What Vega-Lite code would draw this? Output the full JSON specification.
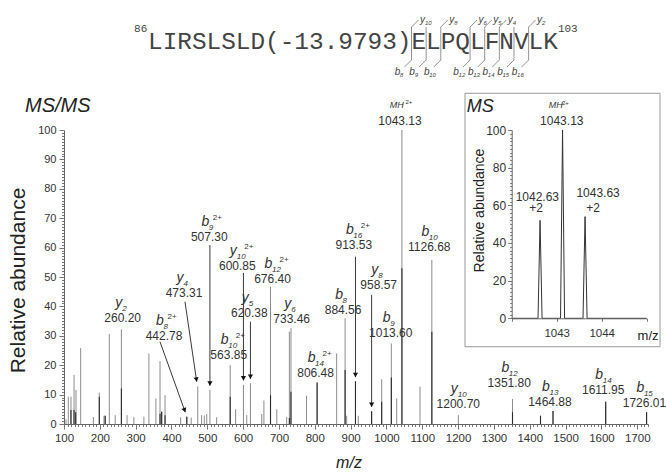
{
  "$schema": "https://vega.github.io/schema/vega-lite/v6.json",
  "autosize": {"type": "none"},
  "padding": {"left": 64, "top": 130, "right": 18, "bottom": 49},
  "width": 584,
  "height": 294,
  "background": "white",
  "config": {
    "view": {"stroke": null},
    "font": "Liberation Sans",
    "text": {"font": "Liberation Sans"},
    "axis": {"grid": false, "labelFont": "Liberation Sans", "titleFont": "Liberation Sans"}
  },
  "layer": [
    {
      "encoding": {
        "x": {"field": "x", "type": "quantitative",
          "scale": {"domain": [100, 1730], "nice": false, "zero": false},
          "axis": {"tickCount": 163, "format": "d", "labelExpr": "datum.value % 100 === 0 ? datum.label : ''",
            "tickSize": {"condition": {"test": "datum.value % 100 === 0", "value": 5}, "value": 2.5},
            "labelFontSize": 11.5, "labelColor": "#333", "labelPadding": 3, "domainColor": "#666", "tickColor": "#777",
            "labelOverlap": false, "labelFlush": false, "labelBound": false,
            "title": "m/z", "titleFontStyle": "italic", "titleFontSize": 16, "titleFontWeight": "normal", "titleColor": "#222",
            "titleX": 284.5, "titleY": 43, "titleBaseline": "alphabetic", "titleAlign": "center"}},
        "y": {"field": "y", "type": "quantitative",
          "scale": {"domain": [0, 100], "nice": false, "zero": false},
          "axis": {"tickCount": 100, "labelExpr": "datum.value % 10 === 0 ? datum.label : ''",
            "tickSize": {"condition": {"test": "datum.value % 10 === 0", "value": 5}, "value": 2.5},
            "labelFontSize": 11, "labelColor": "#333", "labelPadding": 3, "domainColor": "#666", "tickColor": "#777",
            "labelOverlap": false, "labelFlush": false, "labelBound": false,
            "title": "Relative abundance", "titleFontSize": 21, "titleFontWeight": "normal", "titleColor": "#222",
            "titleX": -46, "titleY": 150, "titleAngle": -90, "titleAlign": "center", "titleBaseline": "middle"}}
      },
      "layer": [
        {
          "data": {"values": [
            {"x":105.6,"y":1.6},{"x":112,"y":9.3},{"x":119.5,"y":9.3},{"x":128,"y":16.7},{"x":133.5,"y":11.6},{"x":146.5,"y":25.8},
            {"x":182,"y":2.4},{"x":198.5,"y":10.7},{"x":211.6,"y":2.8},{"x":215,"y":2.8},{"x":226.5,"y":30.6},{"x":243,"y":3},
            {"x":260.2,"y":32.2},{"x":276,"y":3},{"x":295,"y":2.3},{"x":323,"y":2.5},{"x":337,"y":24},{"x":356.5,"y":8.7},
            {"x":368,"y":21.4},{"x":372.6,"y":4.2},{"x":382,"y":9.8},{"x":425.6,"y":2.3},{"x":442.78,"y":2.5},{"x":455,"y":2.2},
            {"x":473.31,"y":12.8},{"x":484,"y":3},{"x":491.6,"y":2.9},{"x":498.3,"y":3.4},{"x":507.3,"y":11.6},{"x":526,"y":2.3},
            {"x":563.85,"y":20},{"x":579,"y":5},{"x":600.85,"y":13.3},{"x":610,"y":3},{"x":620.38,"y":13.9},{"x":652,"y":3.4},
            {"x":658,"y":8},{"x":676.4,"y":46.7},{"x":694,"y":5},{"x":721.5,"y":2.4},{"x":729,"y":31.4},{"x":733.46,"y":32.6},
            {"x":777,"y":9.6},{"x":806.48,"y":14.1},{"x":861,"y":24},{"x":884.56,"y":36},{"x":889,"y":2.8},{"x":913.53,"y":14.5},
            {"x":921.4,"y":2.8},{"x":958.57,"y":4.3},{"x":986.7,"y":15.2},{"x":1013.6,"y":27.4},{"x":1028.6,"y":8.7},{"x":1043.13,"y":100},
            {"x":1093.6,"y":12.7},{"x":1126.68,"y":55.8},{"x":1200.7,"y":3},{"x":1351.8,"y":8.5},{"x":1430,"y":2.8},{"x":1464.88,"y":4.4},
            {"x":1611.95,"y":7.6},{"x":1726.01,"y":4}
          ]},
          "mark": {"type": "rule", "color": "#8c8c8c", "strokeWidth": 1},
          "encoding": {"y2": {"datum": 0}}
        },
        {
          "data": {"values": [
            {"x":119.5,"y":4.8},{"x":128,"y":4.8},{"x":132.6,"y":4.0},{"x":198.5,"y":9.3},{"x":215,"y":2.8},{"x":260.2,"y":12.1},
            {"x":368,"y":3.5},{"x":372.6,"y":4.2},{"x":382,"y":3},{"x":442.78,"y":2.5},{"x":563.85,"y":9.3},{"x":676.4,"y":9.8},
            {"x":729,"y":2},{"x":733.46,"y":11},{"x":806.48,"y":14.1},{"x":884.56,"y":18.4},{"x":913.53,"y":14.5},{"x":958.57,"y":4.3},
            {"x":986.7,"y":7.6},{"x":1013.6,"y":15.8},{"x":1043.13,"y":53},{"x":1126.68,"y":31.4},{"x":1351.8,"y":4},{"x":1430,"y":2.8},
            {"x":1464.88,"y":4.4},{"x":1611.95,"y":7.6},{"x":1726.01,"y":4}
          ]},
          "mark": {"type": "rule", "color": "#2a2a2a", "strokeWidth": 1.1},
          "encoding": {"y2": {"datum": 0}}
        },
        {
          "data": {"values": [
            {"x":367.9,"y":28.0,"x2":438.5,"y2":4.0},
            {"x":437.7,"y":41.6,"x2":470.4,"y2":14.4},
            {"x":507.3,"y":60.9,"x2":507.3,"y2":13.0},
            {"x":600.85,"y":51.4,"x2":600.85,"y2":14.8},
            {"x":620.38,"y":34.8,"x2":620.38,"y2":15.3},
            {"x":913.53,"y":56.9,"x2":913.53,"y2":15.9},
            {"x":958.57,"y":43.9,"x2":958.57,"y2":5.8}
          ]},
          "mark": {"type": "rule", "color": "#222", "strokeWidth": 0.9},
          "encoding": {"x2": {"field": "x2"}, "y2": {"field": "y2"}}
        },
        {
          "data": {"values": [
            {"x":507.3,"y":13.0},
            {"x":600.85,"y":14.8},
            {"x":620.38,"y":15.3},
            {"x":913.53,"y":15.9},
            {"x":958.57,"y":5.8}
          ]},
          "mark": {"type": "point", "shape": "triangle-down", "filled": true, "color": "#111", "opacity": 1, "size": 26, "yOffset": -2.2}
        },
        {
          "data": {"values": [{"x":438.5,"y":4.0}]},
          "mark": {"type": "point", "shape": "triangle-down", "filled": true, "color": "#111", "opacity": 1, "size": 26, "yOffset": -2.1, "xOffset": -0.7, "angle": 340}
        },
        {
          "data": {"values": [{"x":470.4,"y":14.4}]},
          "mark": {"type": "point", "shape": "triangle-down", "filled": true, "color": "#111", "opacity": 1, "size": 26, "yOffset": -2.2, "xOffset": -0.3, "angle": 352}
        },
        {
          "data": {"values": [{"t": "MS/MS", "x": -8.8, "y": 106.1}]},
          "mark": {"type": "text", "fontSize": 20, "fontStyle": "italic", "color": "#222", "align": "left", "baseline": "alphabetic"},
          "encoding": {"text": {"field": "t"}}
        },
        {
          "data": {"name": "ann", "values": [
            {"ion":"y","n":"2","ch":"","mz":"260.20","x":263.8,"y":35.9},
            {"ion":"b","n":"8","ch":"2+","mz":"442.78","x":379.1,"y":29.9},
            {"ion":"y","n":"4","ch":"","mz":"473.31","x":434.9,"y":44.5},
            {"ion":"b","n":"9","ch":"2+","mz":"507.30","x":505.5,"y":63.5},
            {"ion":"b","n":"10","ch":"2+","mz":"563.85","x":559.7,"y":23.5},
            {"ion":"y","n":"10","ch":"2+","mz":"600.85","x":583.7,"y":53.7},
            {"ion":"y","n":"5","ch":"","mz":"620.38","x":617.2,"y":37.7},
            {"ion":"b","n":"12","ch":"2+","mz":"676.40","x":681.9,"y":49.2},
            {"ion":"y","n":"6","ch":"","mz":"733.46","x":735.5,"y":35.6},
            {"ion":"b","n":"14","ch":"2+","mz":"806.48","x":802.2,"y":17.5},
            {"ion":"b","n":"8","ch":"","mz":"884.56","x":879,"y":38.8},
            {"ion":"b","n":"16","ch":"2+","mz":"913.53","x":909,"y":60.9},
            {"ion":"y","n":"8","ch":"","mz":"958.57","x":978.3,"y":47.3},
            {"ion":"b","n":"9","ch":"","mz":"1013.60","x":1012,"y":30.8},
            {"ion":"MH","n":"","ch":"2+","mz":"1043.13","x":1037.8,"y":103.2},
            {"ion":"b","n":"10","ch":"","mz":"1126.68","x":1119.6,"y":60.3},
            {"ion":"y","n":"10","ch":"","mz":"1200.70","x":1200.5,"y":6.8},
            {"ion":"b","n":"12","ch":"","mz":"1351.80","x":1342.8,"y":14.0},
            {"ion":"b","n":"13","ch":"","mz":"1464.88","x":1456.4,"y":7.6},
            {"ion":"b","n":"14","ch":"","mz":"1611.95","x":1605,"y":11.6},
            {"ion":"b","n":"15","ch":"","mz":"1726.01","x":1720,"y":7.0}
          ]},
          "mark": {"type": "text", "fontSize": 12, "color": "#333", "baseline": "middle", "align": "center"},
          "encoding": {"text": {"field": "mz"}}
        },
        {
          "data": {"name": "ann"},
          "transform": [{"filter": "datum.ion != 'MH'"}],
          "mark": {"type": "text", "fontSize": 14, "fontStyle": "italic", "color": "#333", "baseline": "middle", "align": "center", "dx": -4, "dy": -15},
          "encoding": {"text": {"field": "ion"}}
        },
        {
          "data": {"name": "ann"},
          "transform": [{"filter": "datum.n != ''"}],
          "mark": {"type": "text", "fontSize": 8, "fontStyle": "italic", "color": "#333", "baseline": "middle", "align": "left", "dx": -0.5, "dy": -9},
          "encoding": {"text": {"field": "n"}}
        },
        {
          "data": {"name": "ann"},
          "transform": [{"filter": "datum.ch != '' && length(datum.n) == 1"}],
          "mark": {"type": "text", "fontSize": 8, "color": "#333", "baseline": "middle", "align": "left", "dx": 3.5, "dy": -19},
          "encoding": {"text": {"field": "ch"}}
        },
        {
          "data": {"name": "ann"},
          "transform": [{"filter": "datum.ch != '' && length(datum.n) == 2"}],
          "mark": {"type": "text", "fontSize": 8, "color": "#333", "baseline": "middle", "align": "left", "dx": 7, "dy": -19},
          "encoding": {"text": {"field": "ch"}}
        },
        {
          "data": {"name": "ann"},
          "transform": [{"filter": "datum.ion == 'MH'"}],
          "mark": {"type": "text", "fontSize": 9, "fontStyle": "italic", "color": "#333", "baseline": "middle", "align": "center", "dx": -3.3, "dy": -15.7},
          "encoding": {"text": {"field": "ion"}}
        },
        {
          "data": {"name": "ann"},
          "transform": [{"filter": "datum.ion == 'MH'"}],
          "mark": {"type": "text", "fontSize": 6, "color": "#333", "baseline": "middle", "align": "left", "dx": 5.5, "dy": -18.5},
          "encoding": {"text": {"field": "ch"}}
        }
      ]
    },
    {
      "encoding": {
        "x": {"field": "x", "type": "quantitative",
          "scale": {"domain": [1042, 1045], "range": [447.7, 582.7], "nice": false, "zero": false},
          "axis": {"orient": "bottom", "offset": -105.7, "zindex": 2,
            "values": [1042, 1042.25, 1042.5, 1042.75, 1043, 1043.25, 1043.5, 1043.75, 1044, 1044.25, 1044.5, 1044.75, 1045],
            "format": "d", "labelExpr": "datum.value == 1043 || datum.value == 1044 ? datum.label : ''",
            "tickSize": 3, "labelFontSize": 11.5, "labelColor": "#333", "labelPadding": 6, "domainColor": "#666", "tickColor": "#777",
            "labelOverlap": false, "labelFlush": false, "labelBound": false,
            "title": "m/z", "titleFontSize": 13, "titleFontWeight": "normal", "titleColor": "#222",
            "titleX": 594, "titleY": 21, "titleAlign": "right", "titleBaseline": "alphabetic"}},
        "y": {"field": "y", "type": "quantitative",
          "scale": {"domain": [0, 100], "range": [188.3, 0], "nice": false, "zero": false},
          "axis": {"orient": "left", "offset": -447.7, "zindex": 2, "tickCount": 50,
            "labelExpr": "datum.value % 20 === 0 ? datum.label : ''",
            "tickSize": {"condition": {"test": "datum.value % 20 === 0", "value": 4}, "value": 2},
            "labelFontSize": 12, "labelColor": "#333", "labelPadding": 2, "domainColor": "#666", "tickColor": "#777",
            "labelOverlap": false, "labelFlush": false, "labelBound": false,
            "title": "Relative abundance", "titleFontSize": 14, "titleFontWeight": "normal", "titleColor": "#222",
            "titleX": -32.7, "titleY": 80, "titleAngle": -90, "titleAlign": "center", "titleBaseline": "middle"}}
      },
      "layer": [
        {
          "data": {"values": [{"x": 1040.962, "x2": 1045.296, "y": 119.5, "y2": -15.1}]},
          "mark": {"type": "rect", "fill": "white", "stroke": "#999", "strokeWidth": 1},
          "encoding": {"x2": {"field": "x2"}, "y2": {"field": "y2"}}
        },
        {
          "data": {"values": [
            {"x":1042.0,"y":0},{"x":1042.585,"y":0},{"x":1042.63,"y":52},{"x":1042.675,"y":0},
            {"x":1043.085,"y":0},{"x":1043.13,"y":100},{"x":1043.175,"y":0},
            {"x":1043.585,"y":0},{"x":1043.63,"y":54},{"x":1043.675,"y":0},{"x":1045,"y":0}
          ]},
          "mark": {"type": "line", "color": "#333", "strokeWidth": 1}
        },
        {
          "data": {"name": "ilab", "values": [
            {"k":"num","t":"1043.13","x":1043.113,"y":104.9},
            {"k":"num","t":"1042.63","x":1042.57,"y":64.6},
            {"k":"num","t":"+2","x":1042.54,"y":58.4},
            {"k":"num","t":"1043.63","x":1043.92,"y":66.3},
            {"k":"num","t":"+2","x":1043.81,"y":58.7},
            {"k":"mh","t":"MH","x":1042.98,"y":113.3},
            {"k":"sup","t":"2+","x":1043.118,"y":114.2},
            {"k":"ttl","t":"MS","x":1041.0,"y":109.7}
          ]},
          "transform": [{"filter": "datum.k == 'num'"}],
          "mark": {"type": "text", "fontSize": 12, "color": "#333", "baseline": "middle", "align": "center"},
          "encoding": {"text": {"field": "t"}}
        },
        {
          "data": {"name": "ilab"},
          "transform": [{"filter": "datum.k == 'mh'"}],
          "mark": {"type": "text", "fontSize": 9, "fontStyle": "italic", "color": "#333", "baseline": "middle", "align": "center"},
          "encoding": {"text": {"field": "t"}}
        },
        {
          "data": {"name": "ilab"},
          "transform": [{"filter": "datum.k == 'sup'"}],
          "mark": {"type": "text", "fontSize": 6, "color": "#333", "baseline": "middle", "align": "left"},
          "encoding": {"text": {"field": "t"}}
        },
        {
          "data": {"name": "ilab"},
          "transform": [{"filter": "datum.k == 'ttl'"}],
          "mark": {"type": "text", "fontSize": 18, "fontStyle": "italic", "color": "#222", "baseline": "alphabetic", "align": "left"},
          "encoding": {"text": {"field": "t"}}
        }
      ]
    },
    {
      "encoding": {
        "x": {"field": "x", "type": "quantitative",
          "scale": {"domain": [0, 28], "range": [84, 493.9], "nice": false, "zero": false}, "axis": null}
      },
      "layer": [
        {
          "data": {"name": "hdr", "values": [
            {"r":"seq","t":"LIRSLSLD(-13.9793)ELPQLFNVLK","x":0,"y":0},
            {"r":"pre","t":"86","x":-0.05,"y":0.97},
            {"r":"post","t":"103","x":28.0,"y":0.97}
          ]},
          "transform": [{"filter": "datum.r == 'seq'"}],
          "mark": {"type": "text", "font": "Liberation Mono", "fontSize": 24.4, "color": "#444", "align": "left", "baseline": "alphabetic"},
          "encoding": {"text": {"field": "t"},
            "y": {"field": "y", "type": "quantitative", "scale": {"domain": [0, 1], "range": [-81, -98.6], "nice": false, "zero": false}, "axis": null}}
        },
        {
          "data": {"name": "hdr"},
          "transform": [{"filter": "datum.r == 'pre'"}],
          "mark": {"type": "text", "font": "Liberation Mono", "fontSize": 11, "color": "#444", "align": "right", "baseline": "alphabetic"},
          "encoding": {"text": {"field": "t"},
            "y": {"field": "y", "type": "quantitative", "scale": {"domain": [0, 1], "range": [-81, -98.6], "nice": false, "zero": false}, "axis": null}}
        },
        {
          "data": {"name": "hdr"},
          "transform": [{"filter": "datum.r == 'post'"}],
          "mark": {"type": "text", "font": "Liberation Mono", "fontSize": 11, "color": "#444", "align": "left", "baseline": "alphabetic"},
          "encoding": {"text": {"field": "t"},
            "y": {"field": "y", "type": "quantitative", "scale": {"domain": [0, 1], "range": [-81, -98.6], "nice": false, "zero": false}, "axis": null}}
        },
        {
          "data": {"name": "ladder", "values": [
            {"x":18,"yi":"10","bi":"8"},
            {"x":19,"yi":"","bi":"9"},
            {"x":20,"yi":"8","bi":"10"},
            {"x":22,"yi":"6","bi":"12"},
            {"x":23,"yi":"5","bi":"13"},
            {"x":24,"yi":"4","bi":"14"},
            {"x":25,"yi":"","bi":"15"},
            {"x":26,"yi":"2","bi":"16"}
          ]},
          "mark": {"type": "rule", "color": "#777", "strokeWidth": 0.8},
          "encoding": {"y": {"datum": -0.625, "type": "quantitative", "scale": {"domain": [0, 1], "range": [-81, -98.6], "nice": false, "zero": false}, "axis": null}, "y2": {"datum": 1.25}}
        },
        {
          "data": {"name": "ladder"},
          "transform": [{"filter": "datum.yi != ''"}],
          "mark": {"type": "rule", "color": "#777", "strokeWidth": 0.8, "x2Offset": 7, "y2Offset": -7},
          "encoding": {"x2": {"field": "x"}, "y": {"datum": 1.25, "type": "quantitative", "scale": {"domain": [0, 1], "range": [-81, -98.6], "nice": false, "zero": false}, "axis": null}, "y2": {"datum": 1.25}}
        },
        {
          "data": {"name": "ladder"},
          "mark": {"type": "rule", "color": "#777", "strokeWidth": 0.8, "x2Offset": -7, "y2Offset": 7},
          "encoding": {"x2": {"field": "x"}, "y": {"datum": -0.625, "type": "quantitative", "scale": {"domain": [0, 1], "range": [-81, -98.6], "nice": false, "zero": false}, "axis": null}, "y2": {"datum": -0.625}}
        },
        {
          "data": {"name": "ladder"},
          "transform": [{"filter": "datum.yi != ''"}],
          "mark": {"type": "text", "text": "y", "fontSize": 10, "fontStyle": "italic", "color": "#444", "align": "center", "baseline": "alphabetic", "dx": 11},
          "encoding": {"y": {"datum": 1.48, "type": "quantitative", "scale": {"domain": [0, 1], "range": [-81, -98.6], "nice": false, "zero": false}, "axis": null}}
        },
        {
          "data": {"name": "ladder"},
          "transform": [{"filter": "datum.yi != ''"}],
          "mark": {"type": "text", "fontSize": 6, "fontStyle": "italic", "color": "#444", "align": "left", "baseline": "alphabetic", "dx": 13.5, "dy": 2},
          "encoding": {"y": {"datum": 1.48, "type": "quantitative", "scale": {"domain": [0, 1], "range": [-81, -98.6], "nice": false, "zero": false}, "axis": null}, "text": {"field": "yi"}}
        },
        {
          "data": {"name": "ladder"},
          "mark": {"type": "text", "text": "b", "fontSize": 10, "fontStyle": "italic", "color": "#444", "align": "center", "baseline": "alphabetic", "dx": -14},
          "encoding": {"y": {"datum": -1.48, "type": "quantitative", "scale": {"domain": [0, 1], "range": [-81, -98.6], "nice": false, "zero": false}, "axis": null}}
        },
        {
          "data": {"name": "ladder"},
          "mark": {"type": "text", "fontSize": 6, "fontStyle": "italic", "color": "#444", "align": "left", "baseline": "alphabetic", "dx": -11.5, "dy": 2},
          "encoding": {"y": {"datum": -1.48, "type": "quantitative", "scale": {"domain": [0, 1], "range": [-81, -98.6], "nice": false, "zero": false}, "axis": null}, "text": {"field": "bi"}}
        }
      ]
    }
  ],
  "resolve": {"scale": {"x": "independent", "y": "independent"}, "axis": {"x": "independent", "y": "independent"}}
}
